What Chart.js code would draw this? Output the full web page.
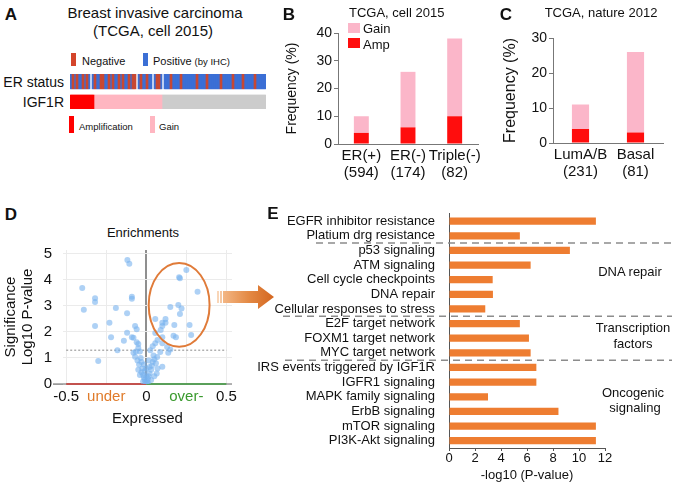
<!DOCTYPE html>
<html>
<head>
<meta charset="utf-8">
<script src="https://cdn.jsdelivr.net/npm/chart.js@4.4.1/dist/chart.umd.min.js"></script>
<style>
  body { margin: 0; background: #fff; font-family: "Liberation Sans", Arial, Helvetica, sans-serif; color: #111; }
  #fig { position: relative; width: 677px; height: 487px; overflow: hidden; }
  canvas, .t, .l, .r, .box, .arrow { position: absolute; }
  .t, .l, .r { white-space: nowrap; line-height: 1; }
  .t { transform: translate(-50%, -50%); text-align: center; }
  .l { transform: translateY(-50%); }
  .r { transform: translate(-100%, -50%); }
  .b { font-weight: bold; font-size: 17px; }
  .arrow {
    left: 217px; top: 285px; width: 57px; height: 24px;
    clip-path: polygon(0 6px, 41px 6px, 41px 0, 57px 12px, 41px 24px, 41px 18px, 0 18px);
    background: linear-gradient(to right, #f9d6b8 0 2px, #fff 2px 3px, #f6c8a2 3px 5px, #fff 5px 6px, #f3b684 6px, #e48a45 55%, #d4661f 100%);
  }
</style>
</head>
<body>
<div id="fig">
  <canvas id="chartA" width="196" height="35" style="left:70px;top:74px"></canvas>
  <canvas id="chartB" width="205" height="165" style="left:280px;top:20px"></canvas>
  <canvas id="chartC" width="173" height="164" style="left:497px;top:20px"></canvas>
  <canvas id="chartD" width="245" height="195" style="left:0;top:240px"></canvas>
  <canvas id="chartE" width="422" height="287" style="left:255px;top:200px"></canvas>

  <!-- A -->
  <div class="t b" style="left:11px;top:14px">A</div>
  <div class="t" style="left:155px;top:12px;font-size:15px">Breast invasive carcinoma</div>
  <div class="t" style="left:153px;top:30px;font-size:15px">(TCGA, cell 2015)</div>
  <div class="box" style="left:71px;top:53px;width:5px;height:13px;background:#d4452b"></div>
  <div class="l" style="left:82px;top:61px;font-size:11px">Negative</div>
  <div class="box" style="left:143px;top:53px;width:5px;height:13px;background:#3b6fd5"></div>
  <div class="l" style="left:153px;top:61px;font-size:11px">Positive <span style="font-size:9.5px">(by IHC)</span></div>
  <div class="r" style="left:64px;top:82px;font-size:14px">ER status</div>
  <div class="r" style="left:64px;top:102px;font-size:14px">IGF1R</div>
  <div class="box" style="left:69px;top:116px;width:5px;height:17px;background:#ff0000"></div>
  <div class="l" style="left:79px;top:127px;font-size:9.5px">Amplification</div>
  <div class="box" style="left:150px;top:116px;width:5px;height:17px;background:#ffb6c1"></div>
  <div class="l" style="left:159px;top:127px;font-size:9.5px">Gain</div>

  <!-- B -->
  <div class="t b" style="left:289px;top:14px">B</div>
  <div class="l" style="left:349px;top:12px;font-size:13px">TCGA, cell 2015</div>
  <div class="box" style="left:348px;top:23px;width:12px;height:10px;background:#fbb6c9"></div>
  <div class="l" style="left:363px;top:28px;font-size:13px">Gain</div>
  <div class="box" style="left:348px;top:38px;width:12px;height:10px;background:#ff0d0d"></div>
  <div class="l" style="left:363px;top:44px;font-size:13px">Amp</div>

  <!-- C -->
  <div class="t b" style="left:506px;top:14px">C</div>
  <div class="t" style="left:601px;top:12px;font-size:13px">TCGA, nature 2012</div>

  <!-- D -->
  <div class="t b" style="left:11px;top:214px">D</div>
  <div class="t" style="left:143px;top:232px;font-size:13px">Enrichments</div>
  <div class="arrow"></div>

  <!-- E -->
  <div class="t b" style="left:273px;top:213px">E</div>
  <div class="t" style="left:630px;top:271px;font-size:13px">DNA repair</div>
  <div class="t" style="left:633px;top:327px;font-size:13px">Transcription</div>
  <div class="t" style="left:633px;top:343px;font-size:13px">factors</div>
  <div class="t" style="left:633px;top:392px;font-size:13px">Oncogenic</div>
  <div class="t" style="left:635px;top:407px;font-size:13px">signaling</div>
</div>

<script>
// ---- data ----
// A: ER status per sample (N = negative, P = positive, . = gap), IGF1R as runs
const erStatus = ('PNPNPPNPNP' + '.' + 'PNPPNNPPNPNPPNPNPPNPNN' + '.' + 'PNPPNPP' + '.' + 'PNNP' + '.' +
  'PPPNPPPPNPPPPPPPNPPPPNPPPPPPNPPPPPNPPPPNPPPPPNPPPPP').split('');
const igf1rRuns = [['A', 12], ['G', 34], ['N', 52]];

// B
const bCategories = [['ER(+)', '(594)'], ['ER(-)', '(174)'], ['Triple(-)', '(82)']];
const bAmp = [4, 6, 10];
const bGain = [6, 20, 28];

// C
const cCategories = [['LumA/B', '(231)'], ['Basal', '(81)']];
const cAmp = [4, 3];
const cGain = [7, 23];

// D: volcano points
const volcanoX = [
  -0.118, -0.106, -0.40, -0.39, -0.32, -0.32, -0.32, -0.19, -0.09, -0.09, -0.23, -0.12, -0.07, -0.06, -0.12,
  -0.22, -0.09, -0.08, -0.14, -0.18, -0.30, -0.05, -0.05, -0.08, -0.07,
  0.25, 0.205, 0.21, 0.32, 0.15, 0.20, 0.22, 0.21, 0.12, 0.12, 0.056, 0.10, 0.10, 0.175, 0.27, 0.28, 0.17,
  0.185, 0.056, 0.09, 0.10, 0.07, 0.056, 0.10, 0.13, 0.15, 0.087, 0.137, 0.068, 0.10,
  -0.04, -0.035, -0.03, -0.045, -0.025, -0.03, -0.02, -0.015, -0.01, -0.005, 0.0, 0.005, 0.01, 0.015, 0.02,
  0.03, 0.035, 0.04, 0.05, 0.045, 0.06, 0.02, -0.01, 0.0, -0.02, 0.01, 0.03, -0.05, 0.025, 0.04, -0.055,
  0.07, 0.065, -0.04, 0.0, 0.015, -0.015, 0.05, -0.06, -0.065
];
const volcanoY = [
  4.77, 4.62, 3.69, 2.85, 3.30, 3.15, 2.23, 2.92, 3.35, 3.28, 2.35, 2.72, 2.23, 2.10, 1.97,
  1.80, 1.80, 1.78, 1.66, 1.30, 0.88, 1.54, 1.38, 1.20, 1.05,
  4.38, 4.10, 4.06, 3.55, 2.96, 3.04, 2.90, 2.69, 2.50, 2.35, 2.50, 2.35, 2.23, 2.27, 2.27, 1.88, 1.85,
  1.80, 1.96, 2.08, 1.80, 1.69, 1.57, 1.57, 1.42, 1.33, 1.23, 1.20, 1.04, 0.66,
  1.25, 1.0, 0.85, 0.75, 0.6, 0.45, 0.35, 0.25, 0.15, 0.08, 0.03, 0.1, 0.2, 0.3, 0.4,
  0.55, 0.7, 0.85, 0.95, 1.1, 0.8, 0.65, 0.5, 0.3, 0.1, 0.05, 0.15, 0.55, 1.3, 1.45, 0.9,
  0.6, 0.4, 0.35, 0.6, 0.9, 0.75, 0.3, 1.6, 1.25
];
const volcanoTicks = [-0.5, -0.25, 0, 0.25, 0.5];
const volcanoTickText = ['-0.5', 'under', '0', 'over-', '0.5'];
const volcanoTickColors = ['#111', '#e07b2a', '#111', '#3a9a2e', '#111'];
const significanceTicks = [0, 1, 2, 3, 4, 5];
const pThreshold = 1.3;

// E
const pathways = [
  'EGFR inhibitor resistance', 'Platium drg resistance', 'p53 signaling', 'ATM signaling',
  'Cell cycle checkpoints', 'DNA repair', 'Cellular responses to stress', 'E2F target network',
  'FOXM1 target network', 'MYC target network', 'IRS events triggered by IGF1R', 'IGFR1 signaling',
  'MAPK family signaling', 'ErbB signaling', 'mTOR signaling', 'PI3K-Akt signaling'
];
const pathwayScores = [11.3, 5.45, 9.3, 6.28, 3.36, 3.38, 2.79, 5.45, 6.15, 6.28, 6.72, 6.72, 3.0, 8.42, 11.3, 11.3];
const groupBreaks = [1, 6, 9];

// ---- defaults ----
Chart.defaults.font.family = '"Liberation Sans", Arial, Helvetica, sans-serif';
Chart.defaults.color = '#111';
Chart.defaults.animation = false;
Chart.defaults.responsive = false;
Chart.defaults.devicePixelRatio = 1;
Chart.defaults.plugins.legend.display = false;
Chart.defaults.plugins.tooltip.enabled = false;

// ---- A: oncoprint ----
const igf1rStatus = [];
igf1rRuns.forEach(([code, n]) => { for (let i = 0; i < n; i++) igf1rStatus.push(code); });
const ER_ROW = [1.15, 2];
const IGF_ROW = [0, 0.8];
function rowData(list, code, span) {
  return list.map(s => s === code ? span : null);
}

new Chart(document.getElementById('chartA'), {
  type: 'bar',
  data: {
    labels: erStatus.map((_, i) => i + 1),
    datasets: [
      { label: 'Negative', data: rowData(erStatus, 'N', ER_ROW), backgroundColor: '#c84832' },
      { label: 'Positive', data: rowData(erStatus, 'P', ER_ROW), backgroundColor: '#3b6fd5' },
      { label: 'Amplification', data: rowData(igf1rStatus, 'A', IGF_ROW), backgroundColor: '#ff0000' },
      { label: 'Gain', data: rowData(igf1rStatus, 'G', IGF_ROW), backgroundColor: '#ffb6c1' },
      { label: 'None', data: rowData(igf1rStatus, 'N', IGF_ROW), backgroundColor: '#cccccc' }
    ]
  },
  options: {
    layout: { padding: 0 },
    datasets: { bar: { grouped: false, barPercentage: 1, categoryPercentage: 1, borderWidth: 0 } },
    scales: {
      x: { display: false },
      y: { display: false, min: 0, max: 2 }
    }
  }
});

// ---- B and C: frequency bars ----
function frequencyChart(id, categories, amp, gain, yMax, opt) {
  return new Chart(document.getElementById(id), {
    type: 'bar',
    data: {
      labels: categories,
      datasets: [
        { label: 'Amp', data: amp, backgroundColor: '#ff0d0d' },
        { label: 'Gain', data: gain, backgroundColor: '#fbb6c9' }
      ]
    },
    options: {
      layout: { padding: { top: opt.top, right: 7, left: 0, bottom: 0 } },
      datasets: { bar: { categoryPercentage: 0.8, barPercentage: opt.bar } },
      scales: {
        x: {
          stacked: true,
          afterFit: s => { s.height = 41; },
          grid: { display: false, drawTicks: false },
          border: { color: '#777' },
          ticks: { font: { size: 15, lineHeight: 1.13 }, padding: 3, maxRotation: 0, autoSkip: false }
        },
        y: {
          stacked: true, min: 0, max: yMax,
          afterFit: s => { s.width = opt.yWidth; },
          ticks: { stepSize: 10, font: { size: 14 }, padding: 2 },
          grid: { drawOnChartArea: false, tickLength: 4, color: '#777' },
          border: { color: '#777' },
          title: { display: true, text: 'Frequency (%)', font: { size: opt.titleSize }, padding: { top: 4, bottom: 0 } }
        }
      }
    }
  });
}
frequencyChart('chartB', bCategories, bAmp, bGain, 40, { top: 13, bar: 0.4, yWidth: 58, titleSize: 14 });
frequencyChart('chartC', cCategories, cAmp, cGain, 30, { top: 18, bar: 0.39, yWidth: 56, titleSize: 16 });

// ---- D: volcano ----
const volcanoPlugin = {
  id: 'volcano',
  beforeDatasetsDraw(chart) {
    const { ctx, chartArea: a, scales: { x, y } } = chart;
    const line = (x1, y1, x2, y2) => { ctx.beginPath(); ctx.moveTo(x1, y1); ctx.lineTo(x2, y2); ctx.stroke(); };
    const y0 = y.getPixelForValue(0);
    ctx.save();
    ctx.lineWidth = 1.5;
    ctx.strokeStyle = '#9a9a9a';
    line(a.left - 10, y0, a.right, y0);
    ctx.strokeStyle = '#c8322c';
    line(x.getPixelForValue(-0.5), y0, x.getPixelForValue(0), y0);
    ctx.strokeStyle = '#3d9a3d';
    line(x.getPixelForValue(0), y0, x.getPixelForValue(0.5), y0);
    ctx.lineWidth = 1;
    ctx.setLineDash([2, 2]);
    ctx.strokeStyle = '#8a8a8a';
    const yt = y.getPixelForValue(pThreshold);
    line(x.getPixelForValue(-0.5), yt, x.getPixelForValue(0.5), yt);
    ctx.restore();
  },
  afterDatasetsDraw(chart) {
    // circle round the over-expressed, significant group
    const { ctx, scales: { x, y } } = chart;
    const cx = x.getPixelForValue(0.205), cy = y.getPixelForValue(3.04);
    const rx = x.getPixelForValue(0.395) - cx, ry = cy - y.getPixelForValue(4.65);
    ctx.save();
    ctx.strokeStyle = '#e07b39';
    ctx.lineWidth = 2;
    ctx.beginPath();
    ctx.ellipse(cx, cy, rx, ry, 0, 0, Math.PI * 2);
    ctx.stroke();
    ctx.restore();
  }
};

new Chart(document.getElementById('chartD'), {
  type: 'scatter',
  data: {
    datasets: [{
      data: volcanoX.map((v, i) => ({ x: v, y: volcanoY[i] })),
      backgroundColor: 'rgba(120,178,238,0.6)',
      pointRadius: 3,
      borderWidth: 0
    }]
  },
  options: {
    layout: { padding: { top: 10, right: 13, left: 0, bottom: 0 } },
    scales: {
      x: {
        type: 'linear', min: -0.52, max: 0.535,
        afterBuildTicks: s => { s.ticks = volcanoTicks.map(v => ({ value: v })); },
        afterFit: s => { s.height = 51; },
        ticks: {
          font: { size: 15 }, padding: 4, maxRotation: 0, autoSkip: false,
          callback: v => volcanoTickText[volcanoTicks.indexOf(v)],
          color: c => volcanoTickColors[c.index]
        },
        grid: {
          drawTicks: false,
          color: c => c.tick && c.tick.value === 0 ? '#8f8f8f' : '#ebebeb',
          lineWidth: c => c.tick && c.tick.value === 0 ? 2 : 1
        },
        border: { display: false },
        title: { display: true, text: 'Expressed', font: { size: 15 }, padding: { top: 0, bottom: 7 } }
      },
      y: {
        min: 0, max: 5.15,
        afterBuildTicks: s => { s.ticks = significanceTicks.map(v => ({ value: v })); },
        afterFit: s => { s.width = 63; },
        ticks: { font: { size: 15 }, padding: 1 },
        grid: {
          color: '#ebebeb', tickLength: 10,
          tickColor: c => c.tick && c.tick.value === 0 ? '#9a9a9a' : 'rgba(0,0,0,0)'
        },
        border: { display: false },
        title: {
          display: true, text: ['Significance', 'Log10 P-value'],
          font: { size: 15, lineHeight: 1.13 }, padding: { top: 2, bottom: 0 }
        }
      }
    }
  },
  plugins: [volcanoPlugin]
});

// ---- E: pathway enrichment ----
const sepStartX = [61, 28, 30];
const separatorPlugin = {
  id: 'separators',
  afterDraw(chart) {
    const { ctx, scales: { y } } = chart;
    ctx.save();
    ctx.strokeStyle = '#8c8c8c';
    ctx.lineWidth = 1.5;
    ctx.setLineDash([7, 5]);
    groupBreaks.forEach((b, i) => {
      const yy = (y.getPixelForValue(b) + y.getPixelForValue(b + 1)) / 2;
      ctx.beginPath();
      ctx.moveTo(sepStartX[i], yy);
      ctx.lineTo(chart.width - 5, yy);
      ctx.stroke();
    });
    ctx.restore();
  }
};

new Chart(document.getElementById('chartE'), {
  type: 'bar',
  data: {
    labels: pathways,
    datasets: [{ data: pathwayScores, backgroundColor: '#ee7d31' }]
  },
  options: {
    indexAxis: 'y',
    layout: { padding: { top: 7, right: 72, left: 0, bottom: 0 } },
    datasets: { bar: { categoryPercentage: 0.8, barPercentage: 0.62 } },
    scales: {
      x: {
        min: 0, max: 12,
        afterFit: s => { s.height = 39; },
        ticks: { stepSize: 2, font: { size: 13 }, padding: 0 },
        grid: { drawOnChartArea: false, tickLength: 3, color: '#555' },
        border: { color: '#555' },
        title: { display: true, text: '-log10 (P-value)', font: { size: 13 }, padding: { top: 0, bottom: 4 } }
      },
      y: {
        afterFit: s => { s.width = 194; },
        ticks: { font: { size: 13 }, padding: 6, autoSkip: false },
        grid: { display: false },
        border: { color: '#555' }
      }
    }
  },
  plugins: [separatorPlugin]
});
</script>
</body>
</html>
